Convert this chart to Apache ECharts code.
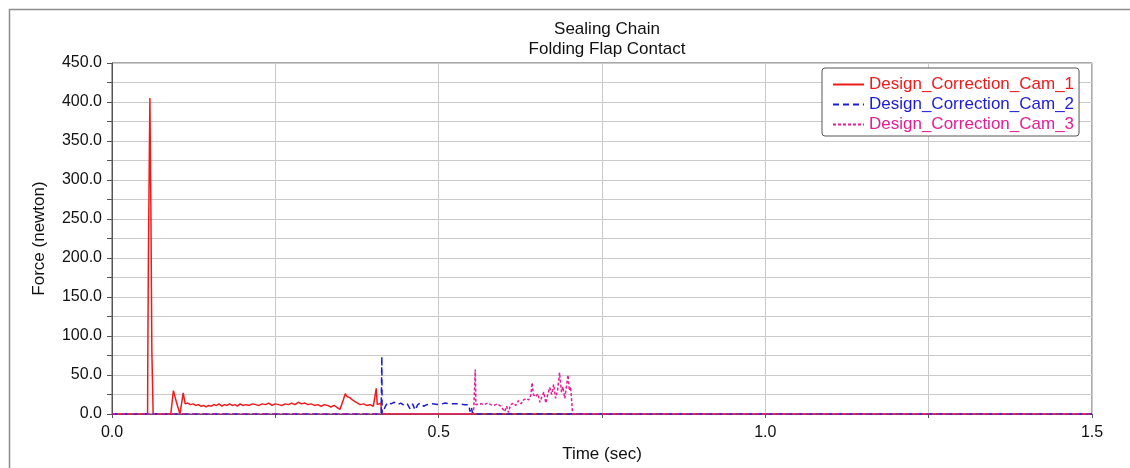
<!DOCTYPE html>
<html>
<head>
<meta charset="utf-8">
<script src="https://cdn.jsdelivr.net/npm/echarts@6/dist/echarts.min.js"></script>
<style>
html,body{margin:0;padding:0;background:#fff;}
#chart{width:1130px;height:468px;}
</style>
</head>
<body>
<div id="chart"></div>
<script>
const titleLines = ['Sealing Chain', 'Folding Flap Contact'];
const seriesNames = ['Design_Correction_Cam_1', 'Design_Correction_Cam_2', 'Design_Correction_Cam_3'];
const xAxisName = 'Time (sec)';
const yAxisName = 'Force (newton)';

const cam1Time = [0, 0.0545, 0.0547, 0.0557, 0.0572, 0.058, 0.0595, 0.061, 0.063,
  0.090, 0.094, 0.099, 0.104, 0.109, 0.112, 0.116, 0.120, 0.124, 0.128,
  0.132, 0.136, 0.140, 0.144, 0.148, 0.152, 0.156, 0.160, 0.164, 0.168,
  0.172, 0.176, 0.180, 0.184, 0.188, 0.192, 0.196, 0.200, 0.205, 0.210,
  0.215, 0.220, 0.225, 0.230, 0.235, 0.240, 0.245, 0.250, 0.255, 0.260,
  0.265, 0.270, 0.275, 0.280, 0.285, 0.290, 0.295, 0.300, 0.305, 0.310,
  0.315, 0.320, 0.325, 0.330, 0.335, 0.340, 0.345, 0.349, 0.351, 0.354,
  0.357, 0.360, 0.364, 0.368, 0.372, 0.376, 0.380, 0.385, 0.390, 0.395,
  0.400, 0.403, 0.4045, 0.406, 0.409, 0.4115, 0.413, 1.5];
const cam1Force = [0, 0, 55, 200, 336, 405, 265, 80, 0,
  0, 30, 14, 0, 27, 13, 14, 12, 13, 11,
  12, 10, 11, 9, 11, 10, 12, 11, 13, 10,
  12, 11, 13, 11, 12, 10, 13, 11, 12, 11,
  13, 12, 11, 13, 12, 14, 11, 13, 12, 11,
  13, 12, 14, 12, 15, 13, 14, 12, 13, 11,
  12, 10, 12, 11, 9, 11, 8, 6, 4, 18,
  26, 22, 21, 18, 16, 14, 12, 13, 11, 12,
  10, 11, 33, 12, 10, 14, 0, 0];

const cam2Time = [0, 0.412, 0.413, 0.4135, 0.415, 0.418, 0.422, 0.427, 0.432,
  0.437, 0.442, 0.447, 0.452, 0.456, 0.460, 0.464, 0.468, 0.472, 0.477,
  0.482, 0.490, 0.500, 0.510, 0.520, 0.530, 0.540, 0.546, 0.548, 0.550,
  0.552, 1.5];
const cam2Force = [0, 0, 74, 0, 3, 9, 15, 13, 15,
  12, 14, 11, 13, 7, 13, 5, 12, 14, 10,
  12, 13, 12, 14, 13, 13, 12, 12, 3, 9,
  0, 0];

const cam3Time = [0, 0.553, 0.554, 0.556, 0.557, 0.560, 0.565, 0.570, 0.575,
  0.580, 0.585, 0.590, 0.595, 0.598, 0.601, 0.604, 0.607, 0.610, 0.615,
  0.618, 0.622, 0.626, 0.630, 0.634, 0.638, 0.641, 0.643, 0.645, 0.648,
  0.652, 0.655, 0.658, 0.661, 0.664, 0.667, 0.670, 0.673, 0.676, 0.679,
  0.682, 0.685, 0.688, 0.690, 0.693, 0.696, 0.698, 0.700, 0.702, 0.705,
  1.5];
const cam3Force = [0, 0, 12, 57, 12, 10, 13, 12, 14,
  12, 11, 13, 10, 12, 3, 10, 2, 12, 14,
  11, 17, 13, 18, 20, 18, 24, 40, 25, 22,
  26, 15, 22, 28, 14, 25, 34, 25, 38, 20,
  30, 53, 28, 35, 20, 38, 50, 30, 35, 0,
  0];

const colors = ['#ee1b1b', '#1c1cd8', '#e41f95'];
const dashTypes = ['solid', [6, 4], [3, 2]];

function zip(t, v) { return t.map((x, i) => [x, v[i]]); }
const allData = [zip(cam1Time, cam1Force), zip(cam2Time, cam2Force), zip(cam3Time, cam3Force)];

const FONT = '"Liberation Sans", Arial, sans-serif';
const chart = echarts.init(document.getElementById('chart'), null, {renderer: 'canvas'});

chart.setOption({
  animation: false,
  backgroundColor: '#fff',
  textStyle: {fontFamily: FONT},
  graphic: [{
    type: 'rect', silent: true, z: -10,
    shape: {x: 9.5, y: 9.5, width: 1300, height: 600},
    style: {fill: 'none', stroke: '#8c8c8c', lineWidth: 1.5}
  }],
  title: {
    text: titleLines.join('\n'),
    left: 602, top: 14,
    textAlign: 'center',
    textStyle: {fontFamily: FONT, fontSize: 17, fontWeight: 'normal', color: '#111', lineHeight: 20}
  },
  legend: {
    orient: 'vertical',
    left: 822, top: 68,
    padding: [8, 5, 3, 10],
    itemGap: 3,
    itemWidth: 31, itemHeight: 14,
    backgroundColor: '#fff',
    borderColor: '#555', borderWidth: 1, borderRadius: 3,
    itemStyle: {opacity: 0},
    textStyle: {fontFamily: FONT, fontSize: 17},
    data: seriesNames.map((n, i) => ({name: n, textStyle: {color: colors[i]}}))
  },
  grid: {
    left: 112, top: 63, right: 38, bottom: 53,
    show: true, borderColor: '#555', borderWidth: 1, backgroundColor: '#fff'
  },
  xAxis: {
    type: 'value', min: 0, max: 1.5, interval: 0.25,
    name: xAxisName, nameLocation: 'middle', nameGap: 32,
    nameTextStyle: {fontFamily: FONT, fontSize: 17, color: '#111'},
    axisLine: {lineStyle: {color: '#555'}},
    axisTick: {show: true, length: 4, lineStyle: {color: '#555'}},
    axisLabel: {
      fontFamily: FONT, fontSize: 16, color: '#111', margin: 11,
      formatter: v => Math.abs(v * 2 - Math.round(v * 2)) < 1e-6 ? v.toFixed(1) : ''
    },
    splitLine: {show: true, lineStyle: {color: '#cbcbcb', width: 1}}
  },
  yAxis: {
    type: 'value', min: 0, max: 450, interval: 25,
    name: yAxisName, nameLocation: 'middle', nameGap: 64, nameRotate: 90,
    nameTextStyle: {fontFamily: FONT, fontSize: 17, color: '#111'},
    axisLine: {show: true, lineStyle: {color: '#555'}},
    axisTick: {show: true, length: 5, lineStyle: {color: '#555'}},
    axisLabel: {
      fontFamily: FONT, fontSize: 16, color: '#111', margin: 10,
      formatter: v => (v % 50 === 0) ? v.toFixed(1) : ''
    },
    splitLine: {show: true, lineStyle: {color: '#cbcbcb', width: 1}}
  },
  series: seriesNames.map((n, i) => ({
    name: n, type: 'line', data: allData[i],
    showSymbol: false, symbol: 'none',
    lineStyle: {color: colors[i], width: 1.5, type: dashTypes[i]},
    itemStyle: {color: colors[i]},
    z: 3 + i
  }))
});
</script>
</body>
</html>
